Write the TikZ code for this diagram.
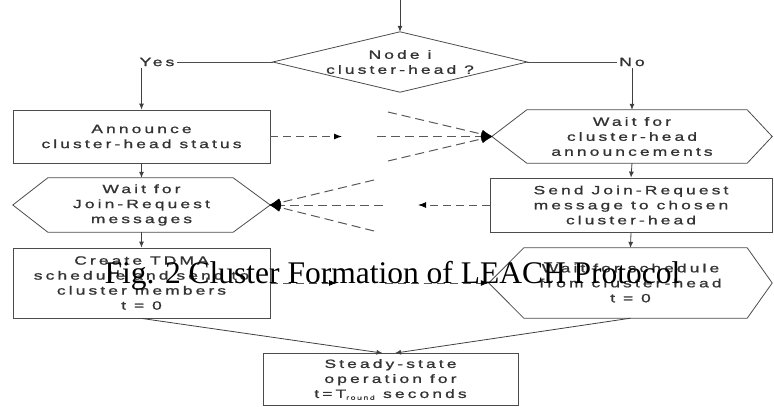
\documentclass[tikz,border=0pt]{standalone}
\usepackage{fontspec}
\usetikzlibrary{arrows.meta}
\newfontfamily\flowfont[FakeStretch=1.45, LetterSpace=26, FakeBold=1.2]{Liberation Sans}
\newfontfamily\capfont{Liberation Serif}

\tikzset{
    frame/.style={draw=black!70, line width=0.8pt},
    label/.style={font=\flowfont\fontsize{12}{15}\selectfont, text=black!80, align=center, inner sep=0pt},
    procbox/.style={label, frame, rectangle, minimum width=#1},
    hexbox/.style={label, rectangle, minimum width=#1},
    flow/.style={draw=black!75, line width=0.8pt, -{Latex[length=6pt,width=5pt]}},
    msg/.style={draw=black!65, line width=1pt, dash pattern=on 8pt off 5pt, -{Latex[length=8pt,width=6pt,black]}},
    fan/.style={draw=black!65, line width=1pt, dash pattern=on 9pt off 5pt, -{Latex[round,length=12pt,width=9pt,black]}}
}

% hexagon outline round a named node: name, left cut, right cut
\newcommand{\hexframe}[3]{%
    \draw[frame] (#1.west) -- ([xshift=#2]#1.north west) -- ([xshift=-#3]#1.north east)
        -- (#1.east) -- ([xshift=-#3]#1.south east) -- ([xshift=#2]#1.south west) -- cycle;
}
% diamond outline round a named node
\newcommand{\diamondframe}[1]{%
    \draw[frame] (#1.north) -- (#1.east) -- (#1.south) -- (#1.west) -- cycle;
}

\begin{document}
\begin{tikzpicture}[x=1pt, y=-1pt]
            \useasboundingbox (0, 0) rectangle (774, 407);

            % decision
            \coordinate (start) at (400, 0);
            \node[label, minimum width=254, minimum height=60] (head) at (400, 62) {Node i\\cluster-head ?};
            \diamondframe{head}
            \node[label, fill=white, inner sep=2pt] (yes) at (157, 62) {Yes};
            \node[label, fill=white, inner sep=2pt] (no) at (632, 62) {No};

            % cluster-head side
            \node[procbox=257, minimum height=53] (announce) at (141.5, 136.5) {Announce\\cluster-head status};
            \node[hexbox=257, minimum height=54] (waitjoin) at (141.5, 205) {Wait for\\Join-Request\\messages};
            \node[procbox=257, minimum height=70] (tdma) at (141.5, 283) {Create TDMA\\schedule and send to\\cluster members\\t = 0};
            \hexframe{waitjoin}{35}{37}

            % member side
            \node[hexbox=280, minimum height=53] (waitch) at (632, 136.5) {Wait for\\cluster-head\\announcements};
            \node[procbox=282, minimum height=54] (send) at (631, 205) {Send Join-Request\\message to chosen\\cluster-head};
            \node[hexbox=283, minimum height=70] (waitsched) at (630.5, 283) {Wait for schedule\\from cluster-head\\t = 0};
            \hexframe{waitch}{35}{25}
            \hexframe{waitsched}{35}{25}

            \node[procbox=255, minimum height=52] (steady) at (390.5, 379.5) {Steady-state\\operation for\\t=T\textsubscript{\fontsize{6}{6}\selectfont round} seconds};

            % control flow
            \draw[flow] (start) -- (head.north);
            \draw[frame] (head.west) -- (yes.east);
            \draw[frame] (head.east) -- (no.west);
            \draw[flow] (yes.south -| announce.north) -- (announce.north);
            \draw[flow] (no.south -| waitch.north) -- (waitch.north);
            \draw[flow] (announce.south) -- (waitjoin.north);
            \draw[flow] (waitch.south) -- (send.north);
            \draw[flow] (waitjoin.south) -- (tdma.north);
            \draw[flow] (send.south) -- (waitsched.north);
            \draw[flow] (tdma.south) -- ([xshift=-8]steady.north);
            \draw[flow] (waitsched.south) -- ([xshift=4.5]steady.north);

            % messages
            \coordinate (annout) at (342, 136.5);
            \coordinate (fanA1) at (388, 112);
            \coordinate (fanA2) at (377, 136.5);
            \coordinate (fanA3) at (388, 161);
            \draw[msg] (announce.east) -- (annout);
            \foreach \c in {fanA1, fanA2, fanA3} {
                \draw[fan] (\c) -- (waitch.west);
            }

            \coordinate (joinout) at (418, 205);
            \coordinate (fanB1) at (374, 180);
            \coordinate (fanB2) at (383, 205);
            \coordinate (fanB3) at (374, 231);
            \draw[msg] (send.west) -- (joinout);
            \foreach \c in {fanB1, fanB2, fanB3} {
                \draw[fan] (\c) -- (waitjoin.east);
            }

            \coordinate (schedout) at (337, 283);
            \coordinate (schedin) at (385, 283);
            \draw[msg] (tdma.east) -- (schedout);
            \draw[msg] (schedin) -- (waitsched.west);

            % caption
            \node[anchor=base, inner sep=0pt, font=\capfont\fontsize{31.5}{32}\selectfont] (caption) at (392.5, 283) {Fig. 2 Cluster Formation of LEACH Protocol};
        \end{tikzpicture}
\end{document}
